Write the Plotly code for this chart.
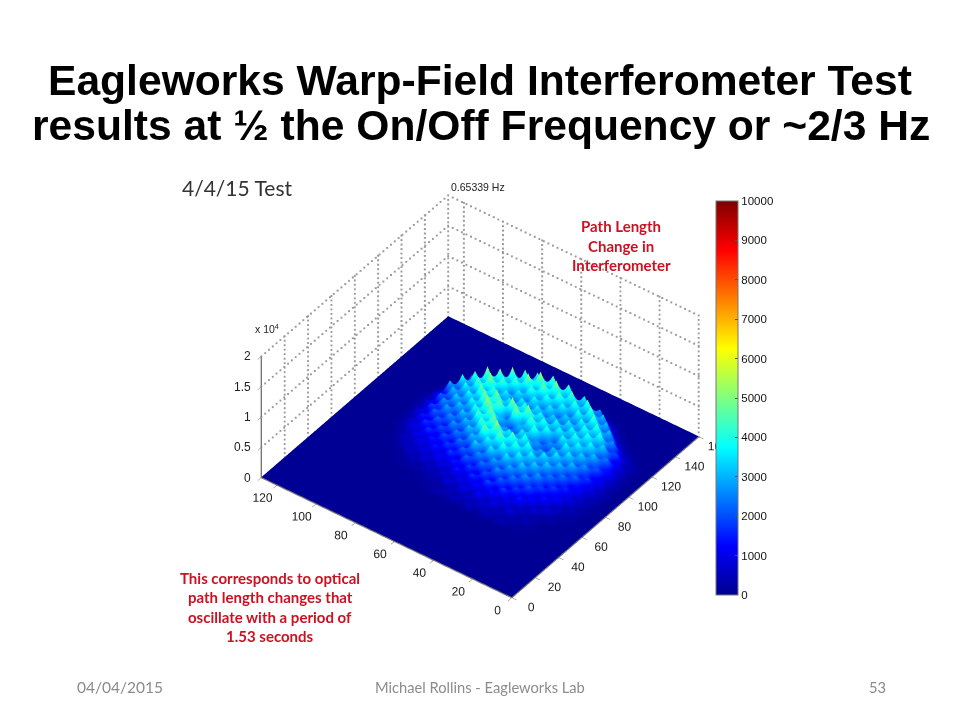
import numpy as np
import plotly.graph_objects as go

# grid of the raised region (data units); rows run from y=104 down to y=8
x_nodes = [44,48,52,56,60,64,68,72,76,80,84,88,92,96,100,104,108,112,116,120,124,128,132,136,140,144]
y_nodes = [104,100,96,92,88,84,80,76,72,68,64,60,56,52,48,44,40,36,32,28,24,20,16,12,8]
# path length values, in hundreds
z_hundreds = [
 [0,0,0,0,0,0,0,0,1,1,2,1,3,1,3,1,1,0,0,0,0,0,0,0,0,0],
 [0,0,0,0,0,0,1,2,3,6,3,9,4,10,5,12,4,7,1,1,0,0,0,0,0,0],
 [0,0,0,0,1,1,5,3,10,5,15,7,19,9,23,11,30,9,8,2,1,0,0,0,0,0],
 [0,0,0,1,1,6,3,11,6,18,9,23,13,28,14,33,16,40,13,25,3,1,0,0,0,0],
 [0,0,1,1,6,3,11,6,18,9,23,13,30,15,35,17,40,19,45,13,10,2,1,0,0,0],
 [0,0,1,4,2,10,5,15,8,21,11,28,14,34,17,40,19,48,22,52,15,12,2,1,0,0],
 [1,0,2,1,9,4,15,8,21,11,29,15,34,17,41,21,50,24,54,24,48,11,8,1,0,0],
 [0,1,1,6,3,13,6,19,10,26,14,33,17,43,22,52,24,45,22,47,24,50,9,3,1,0],
 [1,1,4,2,10,6,19,10,25,14,34,18,47,24,56,29,52,21,38,19,47,22,45,8,2,0],
 [1,2,2,8,4,15,8,23,13,33,19,47,26,52,29,50,22,38,18,38,22,52,24,40,5,1],
 [4,1,9,3,15,8,23,13,35,19,50,26,52,22,30,17,52,22,38,19,45,24,54,22,15,1],
 [1,5,2,11,6,19,11,28,16,40,24,54,24,28,17,54,24,43,19,40,22,50,24,47,6,1],
 [5,2,11,5,18,8,25,15,38,21,50,24,38,17,32,24,52,22,38,19,43,22,52,22,20,1],
 [1,6,3,13,8,21,13,30,17,43,24,47,22,38,22,47,24,40,19,38,21,47,22,45,8,1],
 [6,2,13,6,20,9,28,15,38,19,45,22,43,22,45,22,43,19,35,18,40,22,47,19,18,1],
 [1,8,3,14,8,23,13,31,17,40,21,43,18,28,17,43,22,40,18,35,18,45,19,38,6,1],
 [6,2,11,5,19,9,26,15,35,18,40,19,30,15,28,17,40,21,38,18,43,19,45,17,11,1],
 [1,5,2,11,6,19,11,28,15,35,18,38,19,33,17,40,21,40,19,40,19,47,17,28,3,1],
 [4,1,9,3,15,8,21,13,29,16,35,18,38,19,40,22,43,21,43,21,47,17,33,8,2,0],
 [0,3,1,6,3,13,8,19,11,25,15,33,17,38,19,40,22,43,22,45,17,33,8,3,1,0],
 [1,1,4,1,8,3,14,8,19,11,25,15,33,17,35,19,40,21,43,17,33,8,3,1,0,0],
 [0,1,1,2,1,8,3,13,8,16,9,23,13,28,16,33,17,35,15,28,8,3,1,0,0,0],
 [0,0,0,0,3,1,5,2,9,5,13,8,18,9,21,13,25,11,20,7,4,1,0,0,0,0],
 [0,0,0,0,0,1,1,4,2,6,3,9,5,11,6,13,6,10,3,5,1,0,0,0,0,0],
 [0,0,0,0,0,0,1,0,1,1,3,1,4,1,4,2,4,1,3,1,0,0,0,0,0,0],
]
floor_level = 80
x_limits = [0, 160]
y_limits = [0, 128]
z_limits = [0, 20000]
x_ticks = [0,20,40,60,80,100,120,140,160]
y_ticks = [0,20,40,60,80,100,120]
z_ticks = [0,5000,10000,15000,20000]
z_ticklabels = ["0","0.5","1","1.5","2"]
cbar_ticks = [0,1000,2000,3000,4000,5000,6000,7000,8000,9000,10000]
jet_stops = [[0,"rgb(0,0,143)"],[0.125,"rgb(0,0,255)"],[0.375,"rgb(0,255,255)"],
             [0.625,"rgb(255,255,0)"],[0.875,"rgb(255,0,0)"],[1,"rgb(128,0,0)"]]

title_lines = ["Eagleworks Warp-Field Interferometer Test",
               "results at ½ the On/Off Frequency or ~2/3 Hz"]
W, H = 960, 720
PAGE_MARGIN = 8
def px(v): return (v - PAGE_MARGIN) / W
def py(v): return 1 - (v - PAGE_MARGIN) / H

X = [x_limits[0], x_nodes[0]-4] + x_nodes + [x_nodes[-1]+4, x_limits[1]]
Y = [y_limits[1], y_nodes[0]+4] + y_nodes + [y_nodes[-1]-4, y_limits[0]]
Z = np.pad(np.array(z_hundreds) * 100.0, 2, constant_values=0) + floor_level

# dotted wall grid: small dots laid along each grid line
gx, gy, gz = [], [], []
def seg(a, b, n):
    for t in np.linspace(0, 1, n):
        gx.append(a[0] + (b[0]-a[0])*t); gy.append(a[1] + (b[1]-a[1])*t); gz.append(a[2] + (b[2]-a[2])*t)
back_y, back_x = y_limits[1], x_limits[1]
top = z_limits[1]
for t in x_ticks[1:]:
    seg((t, back_y, 0), (t, back_y, top), 28)
for t in y_ticks:
    seg((back_x, t, 0), (back_x, t, top), 28)
seg((back_x, back_y, 0), (back_x, back_y, top), 28)
for t in z_ticks[1:]:
    seg((0, back_y, t), (back_x, back_y, t), 50)
    seg((back_x, 0, t), (back_x, back_y, t), 56)

fig = go.Figure()
fig.add_trace(go.Scatter3d(x=gx, y=gy, z=gz, mode="markers", hoverinfo="skip", showlegend=False,
                           marker=dict(color="#9a9a9a", size=1, symbol="square", line=dict(width=0))))
fig.add_trace(go.Surface(x=X, y=Y, z=Z, cmin=0, cmax=10000, colorscale=jet_stops,
    lighting=dict(ambient=1.0, diffuse=0.0, specular=0.0, roughness=1.0, fresnel=0.0),
    contours=dict(x=dict(highlight=False), y=dict(highlight=False), z=dict(highlight=False)),
    colorbar=dict(x=px(716), xanchor="left", xpad=0, y=py(201), yanchor="top", ypad=0,
                  len=394, lenmode="pixels", thickness=22, thicknessmode="pixels",
                  tickvals=cbar_ticks, tickformat="d", ticks="inside", ticklen=3, tickcolor="#555",
                  outlinecolor="#777", outlinewidth=1,
                  tickfont=dict(family="Liberation Sans", size=11.5, color="#111"))))

def axis(rng, ticks, **kw):
    return dict(range=rng, tickvals=ticks, title=dict(text=""), showgrid=False, zeroline=False,
                showbackground=False, showspikes=False, showline=True, linecolor="#777", linewidth=3,
                ticks="outside", ticklen=6, tickcolor="#666", tickangle=0,
                tickfont=dict(family="Liberation Sans", size=12, color="#222"), **kw)

z_labels = [dict(x=x_limits[0], y=y_limits[1], z=t, text=s, showarrow=False, xanchor="right", yanchor="middle",
                 xshift=-8, font=dict(family="Liberation Sans", size=12, color="#222"))
            for t, s in zip(z_ticks, z_ticklabels)]
fig.update_layout(
    width=W, height=H, margin=dict(l=0, r=0, t=0, b=0), paper_bgcolor="white",
    showlegend=False,
    scene=dict(
        domain=dict(x=[0, 0.9833], y=[0.0152, 0.9052]),
        xaxis=axis(x_limits, x_ticks),
        yaxis=axis(y_limits, y_ticks),
        zaxis=axis(z_limits, z_ticks, showticklabels=False),
        aspectmode="manual", aspectratio=dict(x=0.975, y=0.975, z=0.494),
        camera=dict(eye=dict(x=-0.646, y=-0.482, z=0.676), up=dict(x=0, y=0, z=1),
                    projection=dict(type="orthographic")),
        annotations=z_labels,
    ),
)
def note(text, x, y, size, color, family="Lato", bold=False, anchor="center"):
    t = f"<b>{text}</b>" if bold else text
    fig.add_annotation(text=t, x=px(x), y=py(y), xref="paper", yref="paper", showarrow=False,
                       xanchor=anchor, yanchor="middle",
                       font=dict(family=family, size=size, color=color))
note(title_lines[0], 480, 80, 42.6, "#000", "Liberation Sans", True)
note(title_lines[1], 481, 125, 42.6, "#000", "Liberation Sans", True)
note("4/4/15 Test", 180, 187, 21, "#333", anchor="left")
note("0.65339 Hz", 478, 187, 10.5, "#222", "Liberation Sans")
note("x 10<sup>4</sup>", 267, 328, 10.5, "#222", "Liberation Sans")
red = "#cc1122"
for i, s in enumerate(["Path Length", "Change in", "Interferometer"]):
    note(s, 621, 226 + 19.5*i, 15, red, bold=True)
for i, s in enumerate(["This corresponds to optical", "path length changes that",
                       "oscillate with a period of", "1.53 seconds"]):
    note(s, 270, 578 + 19.3*i, 15, red, bold=True)
note("04/04/2015", 120, 687, 15.5, "#8c8c8c")
note("Michael Rollins - Eagleworks Lab", 480, 687, 14.7, "#8c8c8c")
note("53", 877, 687, 14.7, "#8c8c8c")
fig.write_html("out.html")
